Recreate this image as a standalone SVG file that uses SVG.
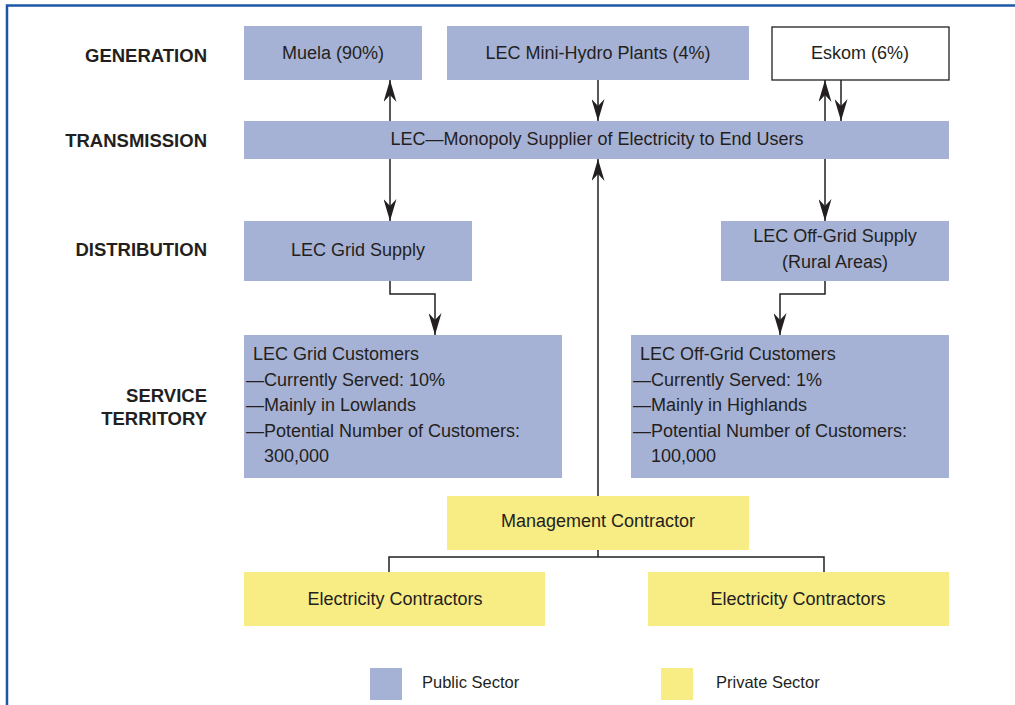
<svg xmlns="http://www.w3.org/2000/svg" width="1015" height="705" viewBox="0 0 1015 705">
<defs>
<style>
.pub{fill:#a6b2d5}
.priv{fill:#f8ec84}
.t{font-family:"Liberation Sans",Arial,sans-serif;font-size:18px;fill:#231f20}
.c{text-anchor:middle}
.lab{font-family:"Liberation Sans",Arial,sans-serif;font-size:18.5px;font-weight:bold;fill:#231f20;text-anchor:end}
.ln{fill:none;stroke:#231f20;stroke-width:1.5}
</style>
<marker id="ah" viewBox="0 0 22 13" refX="22" refY="6.5" markerWidth="22" markerHeight="13" markerUnits="userSpaceOnUse" orient="auto">
<path d="M0,0 L22,6.5 L0,13 L7,6.5 Z" fill="#231f20"/>
</marker>
</defs>
<rect width="1015" height="705" fill="#ffffff"/>
<path d="M7,705 V5.5 H1015" fill="none" stroke="#1c57a5" stroke-width="2.5"/>

<g id="labels">
<text class="lab" x="207" y="62">GENERATION</text>
<text class="lab" x="207" y="147">TRANSMISSION</text>
<text class="lab" x="207" y="256">DISTRIBUTION</text>
<text class="lab" x="207" y="402">SERVICE</text>
<text class="lab" x="207" y="425">TERRITORY</text>
</g>

<g id="connectors">
<line class="ln" x1="390" y1="121" x2="390" y2="80" marker-end="url(#ah)"/>
<line class="ln" x1="598" y1="80" x2="598" y2="121" marker-end="url(#ah)"/>
<line class="ln" x1="825" y1="121" x2="825" y2="80" marker-end="url(#ah)"/>
<line class="ln" x1="841" y1="80" x2="841" y2="121" marker-end="url(#ah)"/>
<line class="ln" x1="390" y1="159" x2="390" y2="221" marker-end="url(#ah)"/>
<line class="ln" x1="825" y1="159" x2="825" y2="221" marker-end="url(#ah)"/>
<path class="ln" d="M390,281 V294 H435 V335" marker-end="url(#ah)"/>
<path class="ln" d="M825,281 V294 H780 V335" marker-end="url(#ah)"/>
<line class="ln" x1="598" y1="497" x2="598" y2="159" marker-end="url(#ah)"/>
<path class="ln" d="M598,550 V557 M389,572 V557 H824 V572"/>
</g>

<g id="muela">
<rect class="pub" x="244" y="26" width="178" height="54"/>
<text class="t c" x="333" y="59">Muela (90%)</text>
</g>
<g id="minihydro">
<rect class="pub" x="447" y="26" width="302" height="54"/>
<text class="t c" x="598" y="59">LEC Mini-Hydro Plants (4%)</text>
</g>
<g id="eskom">
<rect x="772" y="27" width="177" height="53" fill="#ffffff" stroke="#231f20" stroke-width="1.3"/>
<text class="t c" x="860" y="59">Eskom (6%)</text>
</g>
<g id="lec">
<rect class="pub" x="244" y="121" width="705" height="38"/>
<text class="t c" x="597" y="145">LEC—Monopoly Supplier of Electricity to End Users</text>
</g>
<g id="gridsupply">
<rect class="pub" x="244" y="221" width="228" height="60"/>
<text class="t c" x="358" y="256">LEC Grid Supply</text>
</g>
<g id="offgridsupply">
<rect class="pub" x="721" y="221" width="228" height="60"/>
<text class="t c" x="835" y="242">LEC Off-Grid Supply</text>
<text class="t c" x="835" y="268">(Rural Areas)</text>
</g>
<g id="gridcustomers">
<rect class="pub" x="244" y="335" width="318" height="143"/>
<text class="t" x="253" y="360">LEC Grid Customers</text>
<text class="t" x="246" y="386">—Currently Served: 10%</text>
<text class="t" x="246" y="411">—Mainly in Lowlands</text>
<text class="t" x="246" y="437">—Potential Number of Customers:</text>
<text class="t" x="264" y="462">300,000</text>
</g>
<g id="offgridcustomers">
<rect class="pub" x="631" y="335" width="318" height="143"/>
<text class="t" x="640" y="360">LEC Off-Grid Customers</text>
<text class="t" x="633" y="386">—Currently Served: 1%</text>
<text class="t" x="633" y="411">—Mainly in Highlands</text>
<text class="t" x="633" y="437">—Potential Number of Customers:</text>
<text class="t" x="651" y="462">100,000</text>
</g>
<g id="management">
<rect class="priv" x="447" y="496" width="302" height="54"/>
<text class="t c" x="598" y="527">Management Contractor</text>
</g>
<g id="contractors1">
<rect class="priv" x="244" y="572" width="301" height="54"/>
<text class="t c" x="395" y="605">Electricity Contractors</text>
</g>
<g id="contractors2">
<rect class="priv" x="648" y="572" width="301" height="54"/>
<text class="t c" x="798" y="605">Electricity Contractors</text>
</g>
<g id="legend">
<rect class="pub" x="370" y="668" width="32" height="32"/>
<text class="t" x="422" y="688" style="font-size:16.5px">Public Sector</text>
<rect class="priv" x="661" y="668" width="32" height="32"/>
<text class="t" x="716" y="688" style="font-size:16.5px">Private Sector</text>
</g>
</svg>
